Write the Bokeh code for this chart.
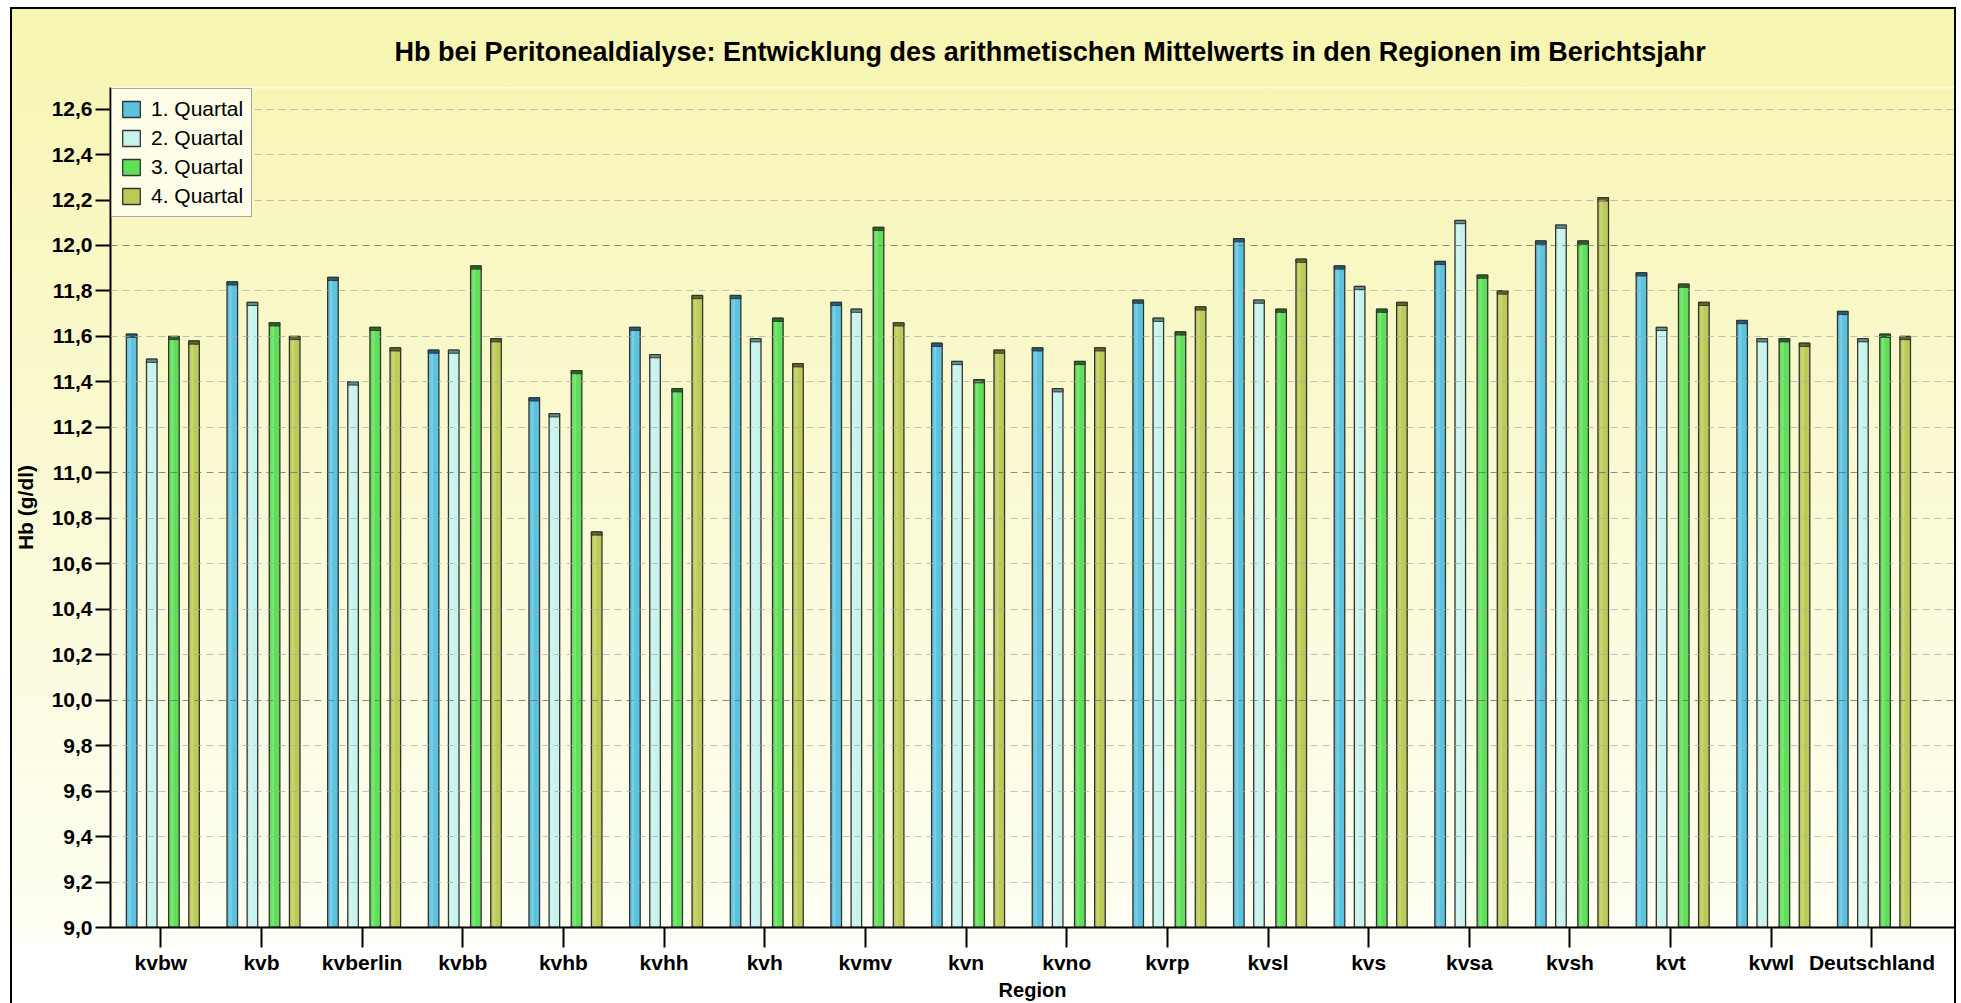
from bokeh.plotting import figure
from bokeh.models import (ColumnDataSource, Range1d, FixedTicker, CustomJSTickFormatter,
                          Grid, Legend, LegendItem, Title, Span)
from bokeh.transform import dodge
from bokeh.embed import file_html
from bokeh.resources import INLINE

regions = ["kvbw", "kvb", "kvberlin", "kvbb", "kvhb", "kvhh", "kvh", "kvmv", "kvn",
           "kvno", "kvrp", "kvsl", "kvs", "kvsa", "kvsh", "kvt", "kvwl", "Deutschland"]
quarters = ["1. Quartal", "2. Quartal", "3. Quartal", "4. Quartal"]
q1 = [11.61, 11.84, 11.86, 11.54, 11.33, 11.64, 11.78, 11.75, 11.57, 11.55, 11.76, 12.03, 11.91, 11.93, 12.02, 11.88, 11.67, 11.71]
q2 = [11.50, 11.75, 11.40, 11.54, 11.26, 11.52, 11.59, 11.72, 11.49, 11.37, 11.68, 11.76, 11.82, 12.11, 12.09, 11.64, 11.59, 11.59]
q3 = [11.60, 11.66, 11.64, 11.91, 11.45, 11.37, 11.68, 12.08, 11.41, 11.49, 11.62, 11.72, 11.72, 11.87, 12.02, 11.83, 11.59, 11.61]
q4 = [11.58, 11.60, 11.55, 11.59, 10.74, 11.78, 11.48, 11.66, 11.54, 11.55, 11.73, 11.94, 11.75, 11.80, 12.21, 11.75, 11.57, 11.60]
series = [q1, q2, q3, q4]
y_ticks = [round(9.0 + 0.2 * i, 1) for i in range(19)]

fills = ["#5cc3df", "#c6f3ec", "#60e058", "#bccb58"]
caps = ["#1f5f78", "#5e8f8c", "#1f6e1c", "#5f6a1c"]
offsets = [-0.29, -0.09, 0.13, 0.33]

FONT = "Liberation Sans"

p = figure(width=1961, height=1003, output_backend="svg", toolbar_location=None,
           x_range=Range1d(-0.5, 17.82), y_range=Range1d(9.0, 12.695),
           min_border_left=110, min_border_right=7, min_border_top=87, min_border_bottom=76,
           background_fill_color=None, border_fill_color=None, title=None)
p.styles = {"background": ("linear-gradient(#000,#000) 10px 7px / 2px 996px no-repeat, "
                           "linear-gradient(#000,#000) 10px 7px / 1946px 2px no-repeat, "
                           "linear-gradient(#000,#000) 1954px 7px / 2px 996px no-repeat, "
                           "linear-gradient(to bottom, #f7f5b0 0%, #faf9d2 45%, #fefef2 92%, #ffffff 95%) "
                           "12px 9px / 1942px 994px no-repeat, #ffffff")}
p.outline_line_color = None
p.add_layout(Span(location=12.695, dimension="width", line_color="#fffff6", line_width=1.5))

t = Title(text="Hb bei Peritonealdialyse: Entwicklung des arithmetischen Mittelwerts in den Regionen im Berichtsjahr",
          align="left", text_font=FONT, text_font_size="27px", text_font_style="bold",
          text_color="#000000", offset=284, standoff=42)
p.add_layout(t, "above")

p.xgrid.visible = False
p.ygrid.ticker = FixedTicker(ticks=[v for v in y_ticks if abs(v - round(v)) > 1e-6])
p.ygrid.grid_line_color = "#a8a8a8"
p.ygrid.grid_line_alpha = 0.7
p.ygrid.grid_line_dash = "7 5"
p.ygrid.level = "overlay"
g2 = Grid(dimension=1, ticker=FixedTicker(ticks=[v for v in y_ticks if abs(v - round(v)) < 1e-6]),
          grid_line_color="#707070", grid_line_alpha=0.8, grid_line_dash="7 5", level="overlay")
p.add_layout(g2)

items = []
for k, vals in enumerate(series):
    src = ColumnDataSource(dict(x=list(range(len(regions))), v=vals,
                                capb=[v - 0.014 for v in vals]))
    r = p.vbar(x=dodge("x", offsets[k], range=p.x_range), top="v", bottom=9.0, width=0.105,
               source=src, fill_color=fills[k], line_color="#333333", line_width=1.3)
    p.vbar(x=dodge("x", offsets[k], range=p.x_range), top="v", bottom="capb", width=0.105,
           source=src, fill_color=caps[k], line_color="#333333", line_width=1)
    p.vbar(x=dodge("x", offsets[k] - 0.018, range=p.x_range), top="capb", bottom=9.0, width=0.025,
           source=src, fill_color="#ffffff", fill_alpha=0.18, line_color=None)
    items.append(LegendItem(label=quarters[k], renderers=[r]))

legend = Legend(items=items, location="top_left", margin=1, padding=8, spacing=5,
                glyph_width=22, glyph_height=20, label_standoff=9, label_height=20,
                label_text_font=FONT, label_text_font_size="21px", label_text_color="#000000",
                background_fill_color="#fdfde8", background_fill_alpha=1.0,
                border_line_color="#555555", border_line_width=1)
p.add_layout(legend)

# Y axis
ya = p.yaxis[0]
ya.ticker = FixedTicker(ticks=y_ticks)
ya.formatter = CustomJSTickFormatter(code="return tick.toFixed(1).replace('.', ',');")
ya.axis_label = "Hb (g/dl)"
ya.axis_label_text_font = FONT
ya.axis_label_text_font_size = "21px"
ya.axis_label_text_font_style = "bold"
ya.axis_label_text_color = "#000000"
ya.axis_label_standoff = 12
ya.major_label_text_font = FONT
ya.major_label_text_font_size = "21px"
ya.major_label_text_font_style = "bold"
ya.major_label_text_color = "#000000"
ya.major_label_standoff = 3
ya.major_tick_out = 15
ya.major_tick_in = 0
ya.minor_tick_out = 0
ya.minor_tick_in = 0
ya.axis_line_width = 2
ya.axis_line_color = "#000000"
ya.major_tick_line_width = 2
ya.major_tick_line_color = "#000000"

# X axis
xa = p.xaxis[0]
xa.ticker = FixedTicker(ticks=list(range(len(regions))))
xa.formatter = CustomJSTickFormatter(args=dict(names=regions),
                                     code="var i = Math.round(tick); return (i >= 0 && i < names.length) ? names[i] : '';")
xa.axis_label = "Region"
xa.axis_label_text_font = FONT
xa.axis_label_text_font_size = "20px"
xa.axis_label_text_font_style = "bold"
xa.axis_label_text_color = "#000000"
xa.axis_label_standoff = 2
xa.major_label_text_font = FONT
xa.major_label_text_font_size = "21px"
xa.major_label_text_font_style = "bold"
xa.major_label_text_color = "#000000"
xa.major_label_standoff = 3
xa.major_tick_out = 20
xa.major_tick_in = 0
xa.minor_tick_out = 0
xa.minor_tick_in = 0
xa.axis_line_width = 2
xa.axis_line_color = "#000000"
xa.major_tick_line_width = 2
xa.major_tick_line_color = "#000000"

open("out.html", "w").write(file_html(p, INLINE))
